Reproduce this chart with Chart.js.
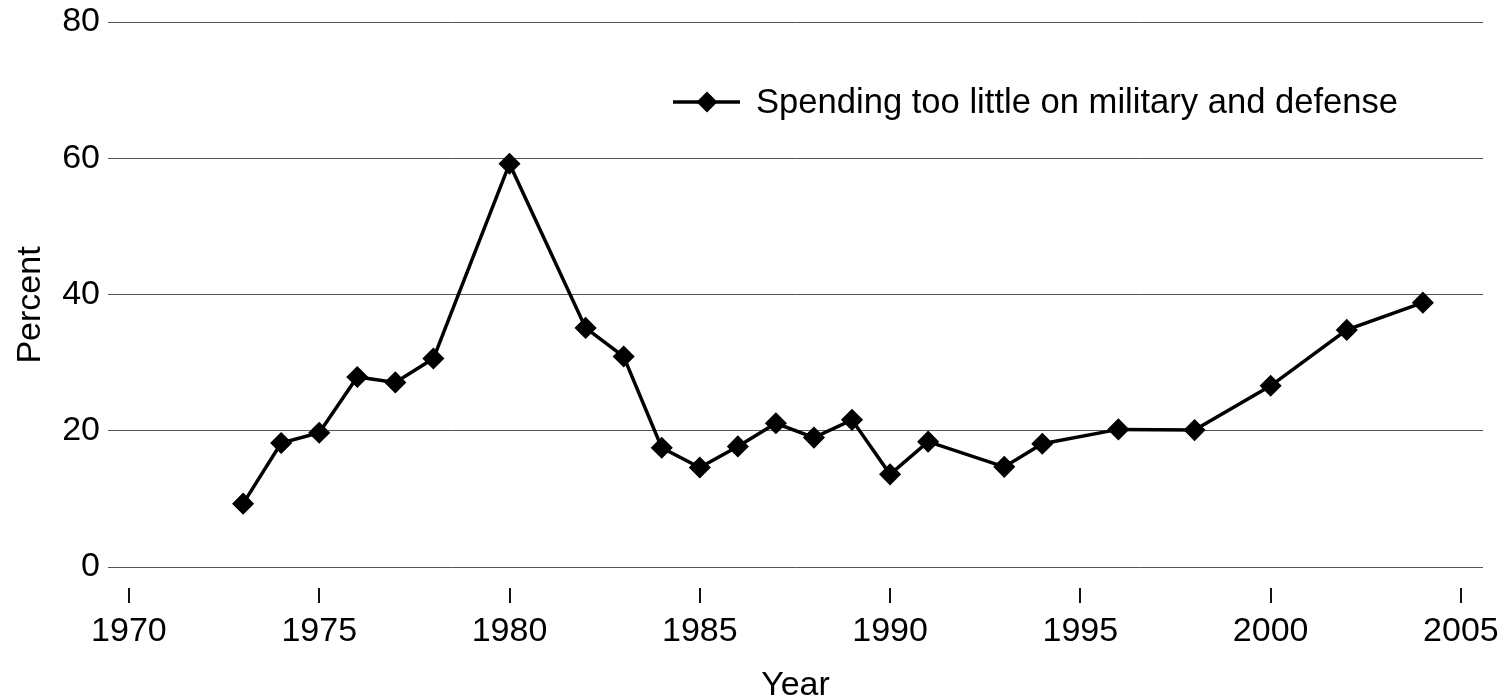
<!DOCTYPE html>
<html>
<head>
<meta charset="utf-8">
<script src="https://cdn.jsdelivr.net/npm/chart.js@4"></script>
<style>
  html, body { margin: 0; padding: 0; background: #fff; }
</style>
</head>
<body>
<canvas id="chartDefense" width="1508" height="699"></canvas>
<script>
const years = [1973, 1974, 1975, 1976, 1977, 1978, 1980, 1982, 1983, 1984, 1985, 1986, 1987, 1988, 1989, 1990, 1991, 1993, 1994, 1996, 1998, 2000, 2002, 2004]
const tooLittle = [9.3, 18.2, 19.7, 27.9, 27.1, 30.6, 59.2, 35.1, 30.9, 17.5, 14.6, 17.7, 21.1, 19.0, 21.6, 13.6, 18.4, 14.7, 18.1, 20.2, 20.1, 26.6, 34.8, 38.8]
const xTicks = [1970, 1975, 1980, 1985, 1990, 1995, 2000, 2005]
const yTicks = [0, 20, 40, 60, 80]

const fontFamily = "'Liberation Sans', Arial, sans-serif"
const ctx = document.getElementById('chartDefense').getContext('2d')

// legend drawn inside the plot, line + diamond like the original
const insideLegend = {
  id: 'insideLegend',
  afterDraw (chart) {
    const c = chart.ctx
    const ds = chart.data.datasets[0]
    const x0 = chart.chartArea.left + 565
    const y0 = chart.chartArea.top + 80
    c.save()
    c.strokeStyle = '#000'
    c.lineWidth = 3.5
    c.beginPath()
    c.moveTo(x0, y0)
    c.lineTo(x0 + 67, y0)
    c.stroke()
    const mx = x0 + 34
    const r = 10.5
    c.fillStyle = '#000'
    c.beginPath()
    c.moveTo(mx - r, y0)
    c.lineTo(mx, y0 - r)
    c.lineTo(mx + r, y0)
    c.lineTo(mx, y0 + r)
    c.closePath()
    c.fill()
    c.font = '34.6px ' + fontFamily
    c.textBaseline = 'middle'
    c.textAlign = 'left'
    c.fillText(ds.label, x0 + 83, y0 + 1)
    c.restore()
  }
}

const chartDefense = new Chart(ctx, {
  type: 'line',
  data: {
    datasets: [
      {
        label: 'Spending too little on military and defense',
        data: years.map((y, i) => ({ x: y, y: tooLittle[i] })),
        borderColor: '#000',
        backgroundColor: '#000',
        borderWidth: 3.5,
        pointStyle: 'rectRot',
        pointRadius: 10,
        pointBorderWidth: 1.5,
        tension: 0,
        fill: false
      }
    ]
  },
  options: {
    responsive: false,
    animation: false,
    layout: { padding: { top: 0, right: 25, left: 0, bottom: 0 } },
    scales: {
      x: {
        type: 'linear',
        min: 1969.45,
        max: 2005.58,
        afterBuildTicks: (scale) => { scale.ticks = xTicks.map(v => ({ value: v })) },
        afterFit: (scale) => { scale.height = 111 },
        grid: {
          drawOnChartArea: false,
          drawTicks: true,
          tickLength: 15,
          color: '#111',
          lineWidth: 2
        },
        border: { display: false },
        ticks: {
          color: '#000',
          font: { size: 34, family: fontFamily },
          padding: 8,
          maxRotation: 0,
          callback: (v) => String(v)
        },
        title: {
          display: true,
          text: 'Year',
          color: '#000',
          font: { size: 34, family: fontFamily, lineHeight: 0.8 },
          padding: { top: 0, bottom: 0 }
        }
      },
      y: {
        min: -3.08,
        max: 80,
        afterBuildTicks: (scale) => { scale.ticks = yTicks.map(v => ({ value: v })) },
        afterFit: (scale) => {
          scale.width = 108
          scale.paddingTop = 22
          scale.paddingBottom = 0
        },
        grid: {
          drawTicks: false,
          color: '#555',
          lineWidth: 1
        },
        border: { display: false },
        ticks: {
          color: '#000',
          font: { size: 34, family: fontFamily },
          padding: 8
        },
        title: {
          display: true,
          text: 'Percent',
          color: '#000',
          font: { size: 34, family: fontFamily },
          padding: { top: 10, bottom: 0 }
        }
      }
    },
    plugins: {
      legend: { display: false },
      tooltip: { enabled: false }
    }
  },
  plugins: [insideLegend]
})
</script>
</body>
</html>
